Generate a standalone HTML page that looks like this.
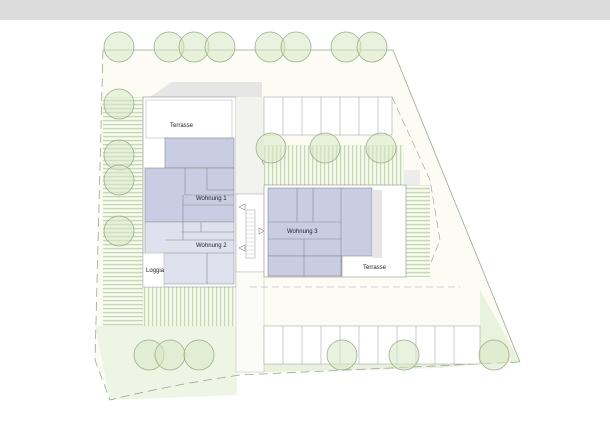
<!DOCTYPE html>
<html><head><meta charset="utf-8"><style>
html,body{margin:0;padding:0;background:#fff;width:610px;height:430px;overflow:hidden}
text{font-family:"Liberation Sans",sans-serif;font-size:6px;fill:#222}
</style></head><body>
<svg width="610" height="430" viewBox="0 0 610 430" xmlns="http://www.w3.org/2000/svg">
<defs>
<pattern id="hs" width="4" height="4" patternUnits="userSpaceOnUse"><rect width="4" height="4" fill="#e4efd6"/><line x1="0" y1="0.5" x2="4" y2="0.5" stroke="#b9c8a8" stroke-width="0.6"/><rect y="2" width="4" height="1.5" fill="#fafcf5"/></pattern>
<pattern id="vs" width="4" height="4" patternUnits="userSpaceOnUse"><rect width="4" height="4" fill="#e4efd6"/><line x1="0.5" y1="0" x2="0.5" y2="4" stroke="#b9c8a8" stroke-width="0.6"/><rect x="2" width="1.5" height="4" fill="#fafcf5"/></pattern>
</defs>
<rect x="0" y="0" width="610" height="20" fill="#dcdcdc"/>
<!-- plot -->
<path d="M103 50 L393 50 L520 362 L440 365 L240 375 L110 400 L95 360 Z" fill="#fcfcf4"/>
<path d="M95 326 L237 326 L237 395 L110 400 Z" fill="#eef5e4"/>
<path d="M480 290 L520 362 L480 364 Z" fill="#e8f2dc"/>
<path d="M264 362 L480 364 L440 368 L264 372Z" fill="#e8f2dc"/>
<path d="M103 50 L393 50 L520 362" fill="none" stroke="#9aa890" stroke-width="0.8"/>
<path d="M103 50 L95 360 L110 400 Q170 385 240 375 L520 362" fill="none" stroke="#9aa890" stroke-width="0.8" stroke-dasharray="9 5"/>
<!-- shadows -->
<path d="M150 97 L172 82 L262 82 L262 97Z" fill="#e6e6e6"/>
<rect x="380" y="170" width="40" height="100" fill="#ececec"/>
<!-- left green strip -->
<rect x="103" y="97" width="40" height="229" fill="url(#hs)"/>
<rect x="143" y="287" width="94" height="39" fill="url(#vs)"/>
<!-- left building -->
<rect x="143" y="97" width="93" height="190" fill="#fff" stroke="#aaa" stroke-width="0.8"/>
<rect x="146" y="100" width="86" height="38" fill="#fff" stroke="#bbb" stroke-width="0.6"/>
<rect x="165" y="138" width="69" height="30" fill="#c9cde3" stroke="#888" stroke-width="0.6"/>
<rect x="145" y="168" width="89" height="54" fill="#c9cde3" stroke="#888" stroke-width="0.6"/>
<rect x="145" y="222" width="89" height="62" fill="#dfe1ee" stroke="#999" stroke-width="0.6"/>
<rect x="143" y="253" width="21" height="34" fill="#fff" stroke="#bbb" stroke-width="0.6"/>
<path d="M185 168V195M207 168V190M185 195H234M207 190H234M183 195V240M183 205H234M201 222V232M181 232H234M164 253H234M207 253V284M165 240H234" stroke="#888" stroke-width="0.6" fill="none"/>
<text x="170" y="127">Terrasse</text>
<text x="196" y="200">Wohnung 1</text>
<text x="196" y="247">Wohnung 2</text>
<text x="146" y="272">Loggia</text>
<!-- core -->
<rect x="236" y="97" width="28" height="97" fill="#f2f2ee"/>
<rect x="236" y="194" width="28" height="78" fill="#fff" stroke="#aaa" stroke-width="0.6"/>
<rect x="246" y="210" width="9" height="48" fill="#fff" stroke="#999" stroke-width="0.5"/>
<path d="M246 214H255M246 218H255M246 222H255M246 226H255M246 230H255M246 234H255M246 238H255M246 242H255M246 246H255M246 250H255M246 254H255" stroke="#bbb" stroke-width="0.4"/>
<path d="M262 161L266 168L270 161Z M245 204L239 207L245 210Z M245 245L239 248L245 251Z M259 228L264 231L259 234Z M252 299L248 305L256 305Z" fill="none" stroke="#888" stroke-width="0.6"/>
<rect x="236" y="272" width="28" height="100" fill="#fbfbf8" stroke="#bbb" stroke-width="0.5"/>
<!-- top parking -->
<rect x="264" y="97" width="128" height="38" fill="#fff" stroke="#aaa" stroke-width="0.6"/>
<path d="M283 97V135M302 97V135M321 97V135M340 97V135M359 97V135M378 97V135" stroke="#aaa" stroke-width="0.6"/>
<path d="M392 97 L430 180 L440 240 L425 277" fill="none" stroke="#999" stroke-width="0.6" stroke-dasharray="8 4"/>
<rect x="264" y="145" width="140" height="40" fill="url(#vs)"/>
<rect x="405" y="185" width="25" height="92" fill="url(#hs)"/>
<!-- right building -->
<rect x="264" y="185" width="142" height="92" fill="#fff" stroke="#aaa" stroke-width="0.8"/>
<rect x="268" y="188" width="104" height="68" fill="#c9cde3" stroke="#888" stroke-width="0.6"/>
<rect x="268" y="256" width="74" height="20" fill="#c9cde3" stroke="#888" stroke-width="0.6"/>
<path d="M297 188V222M313 188V222M341 188V276M268 222H341M268 239H341M304 239V276" stroke="#888" stroke-width="0.6"/>
<rect x="372" y="190" width="10" height="68" fill="#e6e6e6"/>
<text x="287" y="233">Wohnung 3</text>
<text x="363" y="269">Terrasse</text>
<path d="M250 287 L460 287" stroke="#aaa" stroke-width="0.6" stroke-dasharray="7 4" fill="none"/>
<!-- bottom parking -->
<rect x="264" y="326" width="216" height="38" fill="#fff" stroke="#aaa" stroke-width="0.6"/>
<path d="M283 326V364M302 326V364M321 326V364M340 326V364M359 326V364M378 326V364M397 326V364M416 326V364M435 326V364M454 326V364" stroke="#aaa" stroke-width="0.6"/>
<!-- trees -->
<g fill="#d7e8c4" fill-opacity="0.55" stroke="#9cad8a" stroke-width="0.8">
<circle cx="119" cy="47" r="15"/><circle cx="169" cy="47" r="15"/><circle cx="194" cy="47" r="15"/><circle cx="220" cy="47" r="15"/>
<circle cx="270" cy="47" r="15"/><circle cx="296" cy="47" r="15"/><circle cx="346" cy="47" r="15"/><circle cx="372" cy="47" r="15"/>
<circle cx="119" cy="104" r="15"/><circle cx="119" cy="155" r="15"/><circle cx="119" cy="180" r="15"/><circle cx="119" cy="231" r="15"/>
<circle cx="271" cy="148" r="15"/><circle cx="325" cy="148" r="15"/><circle cx="381" cy="148" r="15"/>
<circle cx="149" cy="355" r="15"/><circle cx="170" cy="355" r="15"/><circle cx="199" cy="355" r="15"/>
<circle cx="342" cy="355" r="15"/><circle cx="404" cy="355" r="15"/><circle cx="494" cy="355" r="15"/>
</g>
</svg>
</body></html>
